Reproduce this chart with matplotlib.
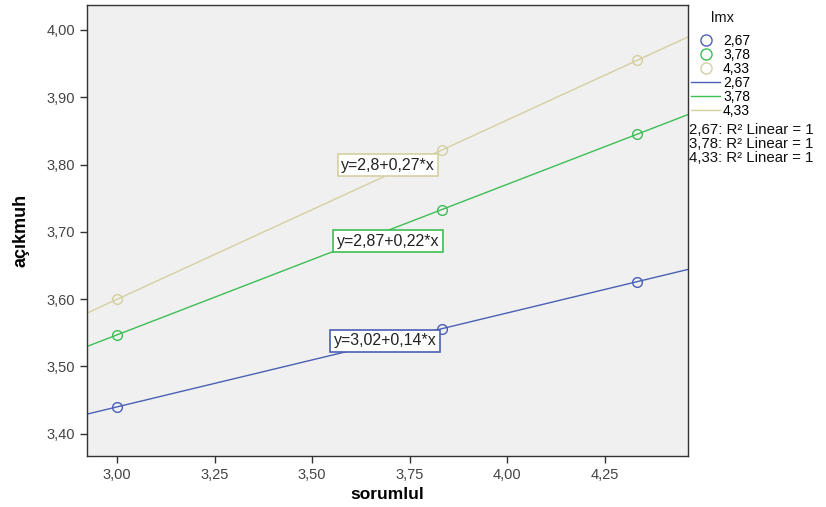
import matplotlib
matplotlib.use("Agg")
import matplotlib.pyplot as plt
import numpy as np
from matplotlib.lines import Line2D

plt.rcParams['font.family'] = ['Liberation Sans', 'DejaVu Sans']

# Data
x_vals = [3.00, 3.833, 4.333]
groups = ['2,67', '3,78', '4,33']
y_267 = [3.440, 3.556, 3.626]
y_378 = [3.547, 3.733, 3.845]
y_433 = [3.600, 3.821, 3.955]
equations = ['y=3,02+0,14*x', 'y=2,87+0,22*x', 'y=2,8+0,27*x']
label_pos = [(3.687, 3.538), (3.695, 3.686), (3.695, 3.799)]
colors = ['#4A5FB5', '#3DBE55', '#D5D0A0']
xticks = [3.00, 3.25, 3.50, 3.75, 4.00, 4.25]
xticklabels = ['3,00', '3,25', '3,50', '3,75', '4,00', '4,25']
yticks = [3.40, 3.50, 3.60, 3.70, 3.80, 3.90, 4.00]
yticklabels = ['3,40', '3,50', '3,60', '3,70', '3,80', '3,90', '4,00']

fig = plt.figure(figsize=(8.26, 5.07), dpi=100)
ax = fig.add_axes([87/826, 1-456/507, (688-87)/826, (456-5)/507])
ax.set_facecolor('#F0F0F0')
xlim = (2.923, 4.464)
ylim = (3.367, 4.037)
ax.set_xlim(*xlim)
ax.set_ylim(*ylim)

series = [y_267, y_378, y_433]
xs = np.array(x_vals)
xx = np.array(xlim)
for ys, c, eq, pos in zip(series, colors, equations, label_pos):
    b, a = np.polyfit(xs, np.array(ys), 1)
    ax.plot(xx, a + b * xx, color=c, lw=1.0, zorder=2)
    ax.plot(xs, ys, 'o', mfc='none', mec=c, ms=7, mew=1.0, zorder=3)
    ax.text(pos[0], pos[1], eq, ha='center', va='center', fontsize=11.5, color='#222222',
            bbox=dict(boxstyle='square,pad=0.22', fc='white', ec=c, lw=1.2), zorder=4)

ax.set_xticks(xticks)
ax.set_xticklabels(xticklabels)
ax.set_yticks(yticks)
ax.set_yticklabels(yticklabels)
ax.tick_params(axis='both', direction='out', length=5, width=1, colors='#333333',
               labelsize=10.5, labelcolor='#444444')
for s in ax.spines.values():
    s.set_color('#333333')
    s.set_linewidth(1.0)

ax.set_xlabel('sorumlul', fontsize=12.5, fontweight='bold', labelpad=4)
ax.set_ylabel('açıkmuh', fontsize=13, fontweight='bold',
              family=['Liberation Sans Narrow', 'Liberation Sans', 'DejaVu Sans'], labelpad=12)

handles = [Line2D([], [], marker='o', ls='none', mfc='none', mec=c, ms=8, mew=1.0) for c in colors]
handles += [Line2D([], [], color=c, lw=1.0) for c in colors]
labels = groups + groups
fig.text(722/826, 1-18/507, 'lmx', fontsize=10.5, ha='center', va='center', color='#111111')
leg = fig.legend(handles, labels, loc='upper left', bbox_to_anchor=(691/826, 1-34/507),
                 frameon=False, fontsize=10, handlelength=2.1,
                 handletextpad=0.2, labelspacing=0.0, borderaxespad=0, borderpad=0.0)

for i, g in enumerate(groups):
    fig.text(689/826, 1-(130 + 14*i)/507, g + ': R² Linear = 1', fontsize=10.8,
             va='center', ha='left', color='#111111')

fig.savefig('out.png', dpi=100)
